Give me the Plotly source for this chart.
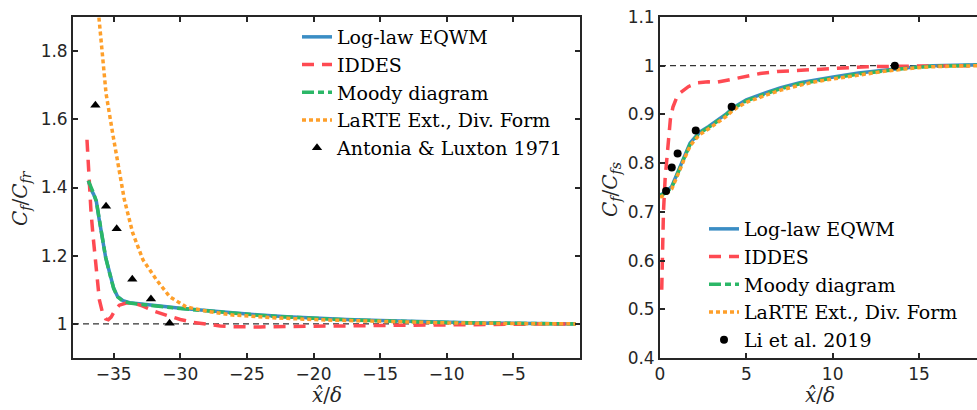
import plotly.graph_objects as go

# ---------------- data: left panel (recovery, x/delta < 0) ----------------
L_eqwm_x = [-36.9, -36.7, -36.5, -36.3, -36.1, -35.9, -35.6, -35.3, -35.0, -34.7, -34.3, -33.8,
            -33.0, -32.0, -31.0, -30.0, -28.0, -26.0, -24.0, -22.0, -20.0, -17.5, -15.0, -12.5,
            -10.0, -7.5, -5.0, -2.5, -0.3]
L_eqwm_y = [1.42, 1.395, 1.38, 1.36, 1.31, 1.26, 1.195, 1.15, 1.105, 1.08, 1.068, 1.062,
            1.058, 1.054, 1.050, 1.046, 1.039, 1.032, 1.026, 1.021, 1.017, 1.013, 1.010, 1.007,
            1.005, 1.003, 1.002, 1.001, 1.0]
L_moody_x = [-36.9, -36.7, -36.5, -36.3, -36.1, -35.9, -35.6, -35.3, -35.0, -34.7, -34.3, -33.8,
             -33.0, -32.0, -31.0, -30.0, -28.0, -26.0, -24.0, -22.0, -20.0, -17.5, -15.0, -12.5,
             -10.0, -7.5, -5.0, -2.5, -0.3]
L_moody_y = [1.42, 1.397, 1.382, 1.36, 1.312, 1.26, 1.195, 1.148, 1.104, 1.079, 1.067, 1.061,
             1.057, 1.053, 1.049, 1.045, 1.038, 1.031, 1.025, 1.020, 1.016, 1.012, 1.009, 1.006,
             1.004, 1.003, 1.002, 1.001, 1.0]
L_iddes_x = [-37.0, -36.9, -36.8, -36.7, -36.55, -36.4, -36.25, -36.07, -35.85, -35.6, -35.4,
             -35.19, -34.9, -34.57, -34.0, -33.4, -32.8, -32.0, -31.0, -30.0, -29.0, -28.0, -27.0,
             -26.0, -25.0, -24.0, -23.0, -22.0, -21.0, -20.0, -18.0, -16.0, -14.0, -12.0, -10.0,
             -8.0, -6.0, -4.0, -2.0, -0.3]
L_iddes_y = [1.54, 1.46, 1.39, 1.33, 1.26, 1.20, 1.13, 1.07, 1.035, 1.015, 1.012,
             1.02, 1.04, 1.055, 1.062, 1.06, 1.052, 1.038, 1.025, 1.013, 1.004, 0.998, 0.994,
             0.992, 0.991, 0.991, 0.992, 0.992, 0.992, 0.993, 0.994, 0.995, 0.996, 0.997, 0.998,
             0.998, 0.999, 0.999, 1.0, 1.0]
L_larte_x = [-36.3, -36.12, -35.85, -35.57, -35.07, -34.6, -34.2, -33.57, -32.8, -31.8, -30.8,
             -29.57, -28.0, -26.07, -23.0, -19.6, -15.0, -10.0, -5.0, -0.3]
L_larte_y = [1.98, 1.90, 1.78, 1.676, 1.558, 1.45, 1.365, 1.267, 1.188, 1.13, 1.08,
             1.05, 1.037, 1.026, 1.018, 1.012, 1.007, 1.003, 1.001, 1.0]
L_exp_x = [-36.37, -35.57, -34.77, -33.6, -32.2, -30.8]
L_exp_y = [1.641, 1.345, 1.279, 1.131, 1.073, 1.002]

# ---------------- data: right panel (x/delta > 0) ----------------
R_eqwm_x = [0.0, 0.3, 0.68, 0.9, 1.16, 1.45, 1.74, 2.0, 2.32, 2.8, 3.28, 3.8, 4.24, 5.0, 6.18,
            7.0, 8.1, 9.0, 10.04, 11.5, 12.9, 14.3, 15.8, 17.0, 18.5]
R_eqwm_y = [0.734, 0.74, 0.752, 0.77, 0.793, 0.818, 0.841, 0.852, 0.864, 0.875, 0.887, 0.9,
            0.914, 0.93, 0.945, 0.955, 0.965, 0.971, 0.977, 0.985, 0.991, 0.996, 1.0, 1.001, 1.002]
R_moody_x = R_eqwm_x
R_moody_y = [0.733, 0.738, 0.75, 0.767, 0.79, 0.815, 0.838, 0.85, 0.862, 0.873, 0.885, 0.898,
             0.912, 0.928, 0.943, 0.953, 0.963, 0.969, 0.975, 0.983, 0.989, 0.995, 0.999, 1.0, 1.001]
R_larte_x = R_eqwm_x
R_larte_y = [0.73, 0.735, 0.747, 0.764, 0.787, 0.812, 0.835, 0.847, 0.859, 0.87, 0.882, 0.895,
             0.909, 0.925, 0.94, 0.95, 0.96, 0.967, 0.973, 0.981, 0.988, 0.994, 0.998, 0.999, 1.0]
R_iddes_x = [0.1, 0.15, 0.2, 0.3, 0.45, 0.6, 0.75, 0.95, 1.2, 1.64, 2.2, 2.8, 3.3, 4.0, 4.8,
             5.8, 6.8, 8.3, 10.0, 12.0, 14.0, 16.0, 18.5]
R_iddes_y = [0.54, 0.62, 0.70, 0.77, 0.84, 0.89, 0.915, 0.933, 0.945, 0.957, 0.965, 0.967,
             0.966, 0.971, 0.977, 0.984, 0.988, 0.991, 0.995, 0.998, 0.999, 1.0, 1.0]
R_exp_x = [0.35, 0.68, 1.02, 2.07, 4.15, 13.6]
R_exp_y = [0.743, 0.791, 0.82, 0.867, 0.916, 1.0]

# tick labels
L_xticks = [-35, -30, -25, -20, -15, -10, -5]
L_yticks = [1.0, 1.2, 1.4, 1.6, 1.8]
L_yticklabels = ["1", "1.2", "1.4", "1.6", "1.8"]
R_xticks = [0, 5, 10, 15]
R_yticks = [0.4, 0.5, 0.6, 0.7, 0.8, 0.9, 1.0, 1.1]
R_yticklabels = ["0.4", "0.5", "0.6", "0.7", "0.8", "0.9", "1", "1.1"]

BLUE = "#3a8dc4"
RED = "#fe4a52"
GREEN = "#2bb767"
ORANGE = "#fe9f2a"
AX = "#262626"
SERIF = "DejaVu Serif"

W, H = 977, 410
def px_x(p):
    return p / W
def px_y(p):
    return 1 - p / H

fig = go.Figure()

def add_set(xref, yref, legend, eq, moody, iddes, larte, exp, exp_name, exp_symbol, exp_size):
    fig.add_trace(go.Scatter(x=eq[0], y=eq[1], mode="lines", name="Log-law EQWM",
                             line=dict(color=BLUE, width=3.5), xaxis=xref, yaxis=yref, legend=legend))
    fig.add_trace(go.Scatter(x=iddes[0], y=iddes[1], mode="lines", name="IDDES",
                             line=dict(color=RED, width=3.5, dash="12px,8px"), xaxis=xref, yaxis=yref, legend=legend))
    fig.add_trace(go.Scatter(x=moody[0], y=moody[1], mode="lines", name="Moody diagram",
                             line=dict(color=GREEN, width=3.5, dash="12px,4px,6px,4px"), xaxis=xref, yaxis=yref, legend=legend))
    fig.add_trace(go.Scatter(x=larte[0], y=larte[1], mode="lines", name="LaRTE Ext., Div. Form",
                             line=dict(color=ORANGE, width=3.5, dash="4px,3px"), xaxis=xref, yaxis=yref, legend=legend))
    fig.add_trace(go.Scatter(x=exp[0], y=exp[1], mode="markers", name=exp_name,
                             marker=dict(color="black", symbol=exp_symbol, size=exp_size), xaxis=xref, yaxis=yref, legend=legend))

add_set("x", "y", "legend",
        (L_eqwm_x, L_eqwm_y), (L_moody_x, L_moody_y), (L_iddes_x, L_iddes_y), (L_larte_x, L_larte_y),
        (L_exp_x, L_exp_y), "Antonia & Luxton 1971", "triangle-up", 9)
add_set("x2", "y2", "legend2",
        (R_eqwm_x, R_eqwm_y), (R_moody_x, R_moody_y), (R_iddes_x, R_iddes_y), (R_larte_x, R_larte_y),
        (R_exp_x, R_exp_y), "Li et al. 2019", "circle", 8)

axis_common = dict(showgrid=False, zeroline=False, showline=True, linecolor=AX, linewidth=1.8,
                   ticks="inside", ticklen=5, tickwidth=1.5, tickcolor=AX, automargin=False,
                   tickfont=dict(family="DejaVu Sans", size=17, color=AX))

ytop, ybot = px_y(17), px_y(358)
fig.update_layout(
    width=W, height=H, margin=dict(l=0, r=0, t=0, b=0, autoexpand=False),
    paper_bgcolor="white", plot_bgcolor="white",
    xaxis=dict(domain=[px_x(73), px_x(580)], range=[-38.05, 0], tickvals=L_xticks,
               mirror="ticks", anchor="y", **axis_common),
    yaxis=dict(domain=[ybot, ytop], range=[0.9, 1.9], tickvals=L_yticks, ticktext=L_yticklabels,
               mirror="ticks", anchor="x", **axis_common),
    xaxis2=dict(domain=[px_x(660), 1.0], range=[0, 18.36], tickvals=R_xticks,
                mirror="ticks", anchor="y2", **axis_common),
    yaxis2=dict(domain=[ybot, ytop], range=[0.4, 1.1], tickvals=R_yticks, ticktext=R_yticklabels,
                mirror=False, anchor="x2", **axis_common),
    legend=dict(x=px_x(297), y=px_y(18), xanchor="left", yanchor="top", bgcolor="rgba(0,0,0,0)",
                font=dict(family=SERIF, size=19, color="black"), tracegroupgap=0, itemwidth=30),
    legend2=dict(x=px_x(704), y=px_y(210), xanchor="left", yanchor="top", bgcolor="rgba(0,0,0,0)",
                 font=dict(family=SERIF, size=19, color="black"), tracegroupgap=0, itemwidth=30),
    showlegend=True,
)

# reference lines at Cf ratio = 1
for xr, yr in (("x", "y"), ("x2", "y2")):
    fig.add_shape(type="line", xref=xr + " domain", yref=yr, x0=0, x1=1, y0=1, y1=1,
                  line=dict(color="black", width=1, dash="6px,4px"), layer="below")

title_font = dict(family=SERIF, size=20, color=AX)
ann = dict(xref="paper", yref="paper", showarrow=False, font=title_font,
           xanchor="center", yanchor="middle")
fig.add_annotation(text="<i>x̂</i>/<i>δ</i>", x=px_x(327), y=px_y(395), **ann)
fig.add_annotation(text="<i>x̂</i>/<i>δ</i>", x=px_x(820), y=px_y(395), **ann)
fig.add_annotation(text="<i>C<sub>f</sub></i>/<i>C<sub>fr</sub></i>", x=px_x(21), y=px_y(198),
                   textangle=-90, **ann)
fig.add_annotation(text="<i>C<sub>f</sub></i>/<i>C<sub>fs</sub></i>", x=px_x(611), y=px_y(190),
                   textangle=-90, **ann)

fig.write_html("out.html", config={"displayModeBar": False},
               post_script="document.body.style.margin='0';document.body.style.overflow='hidden';")
